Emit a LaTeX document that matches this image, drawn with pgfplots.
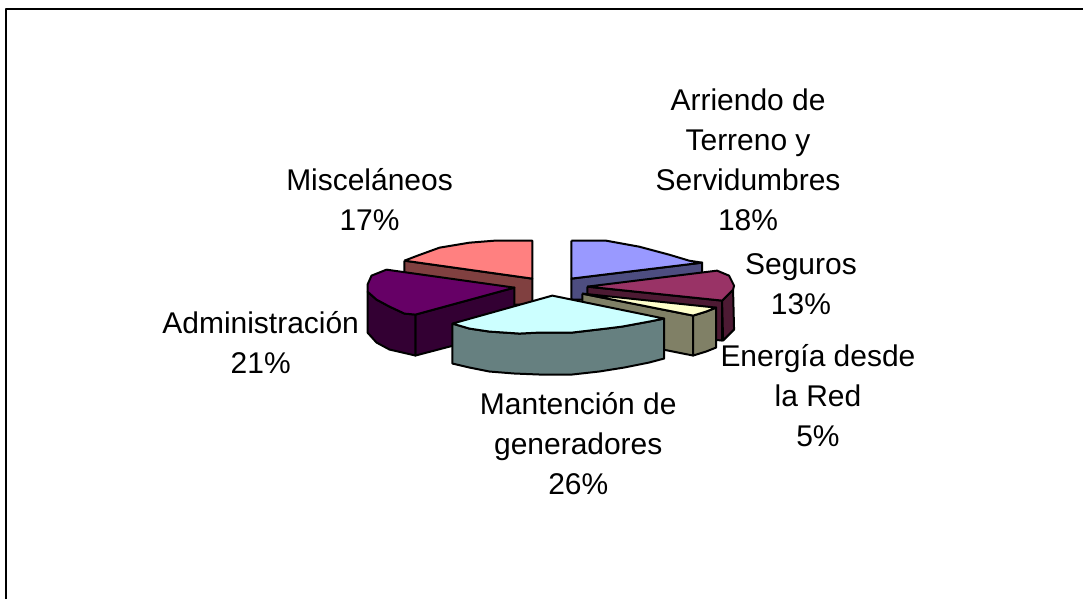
\documentclass[border=0pt]{standalone}
\usepackage{pgfplots}
\pgfplotsset{compat=1.18}
\usepackage{fontspec}
\setmainfont{Liberation Sans}
\definecolor{salmon}{HTML}{FF8080}
\definecolor{salmond}{HTML}{804040}
\definecolor{peri}{HTML}{9999FF}
\definecolor{perid}{HTML}{4D4D80}
\definecolor{plum}{HTML}{993366}
\definecolor{plumd}{HTML}{4D1A33}
\definecolor{cream}{HTML}{FFFFCC}
\definecolor{creamd}{HTML}{808066}
\definecolor{violet2}{HTML}{660066}
\definecolor{violetd}{HTML}{330033}
\definecolor{aqua}{HTML}{CCFFFF}
\definecolor{aquad}{HTML}{668080}
\tikzset{lab/.style={font=\fontsize{30}{40}\selectfont, align=center, text=black, anchor=center, inner sep=0pt}}
\begin{document}
\begin{tikzpicture}
\begin{axis}[
  width=1084pt, height=600pt, scale only axis,
  xmin=0, xmax=1084, ymin=0, ymax=600, y dir=reverse,
  hide axis, clip=false,
  every axis plot/.append style={draw=black, line width=2pt, line join=round, mark=none},
]
\path (rel axis cs:0,0) rectangle (rel axis cs:1,1);
% outer frame
\addplot[draw=black, line width=2.8pt] coordinates {(6,600) (6,9) (1084,9)};
% salmon: Miscelaneos
\addplot[fill=salmond] coordinates {(405,261) (533,279) (533,305) (405,305) (405,261)};
\addplot[fill=salmon] coordinates {(405,261) (418,256) (440,248) (470,243) (495,241) (533,241) (533,279) (405,261)};
% periwinkle: Arriendo
\addplot[fill=perid] coordinates {(572,279) (703,263) (703,272) (703,300) (572,300) (572,279)};
\addplot[fill=peri] coordinates {(572,241) (607,241) (640,247) (670,255) (690,261) (703,263) (572,279) (572,241)};
% plum: Seguros
\addplot[fill=plumd] coordinates {(588,287) (723,301) (723,341) (588,327) (588,287)};
\addplot[fill=plumd] coordinates {(723,301) (734,290) (735,330) (724,341) (723,301)};
\addplot[fill=plum] coordinates {(588,287) (718,271) (730,276) (735,286) (734,290) (723,301) (588,287)};
% cream: Energia
\addplot[fill=creamd] coordinates {(583,294) (694,316) (694,356) (583,334) (583,294)};
\addplot[fill=creamd] coordinates {(694,316) (707,312) (717,308) (717,348) (707,352) (694,356) (694,316)};
\addplot[fill=cream] coordinates {(583,294) (717,308) (707,312) (694,316) (583,294)};
% violet: Administracion
\addplot[fill=violetd] coordinates {(416,315) (515,288) (515,330) (416,356) (416,315)};
\addplot[fill=violetd] coordinates {(368,292) (377,300) (390,307) (405,314) (416,315) (416,356) (390,350) (377,343) (368,333) (368,292)};
\addplot[fill=violet2] coordinates {(387,270) (372,276) (368,285) (368,292) (377,300) (390,307) (405,314) (416,315) (515,288) (387,270)};
% aqua: Mantencion
\addplot[fill=aquad] coordinates {(453,324) (470,329) (490,332) (520,334) (540,333) (573,333) (607,329) (623,327) (650,322) (665,319) (665,359) (650,363) (625,368) (600,372) (573,375) (540,375) (515,374) (490,372) (470,368) (453,364) (453,324)};
\addplot[fill=aqua] coordinates {(553,296) (453,324) (470,329) (490,332) (520,334) (540,333) (573,333) (607,329) (623,327) (650,322) (665,319) (553,296)};
% labels
\node[lab] at (axis cs:749,160) {Arriendo de\\Terreno y\\Servidumbres\\18\%};
\node[lab] at (axis cs:370,200) {Misceláneos\\17\%};
\node[lab] at (axis cs:802,285) {Seguros\\13\%};
\node[lab] at (axis cs:261,343) {Administración\\21\%};
\node[lab] at (axis cs:819,396) {Energía desde\\la Red\\5\%};
\node[lab] at (axis cs:579,444) {Mantención de\\generadores\\26\%};
\end{axis}
\end{tikzpicture}
\end{document}
